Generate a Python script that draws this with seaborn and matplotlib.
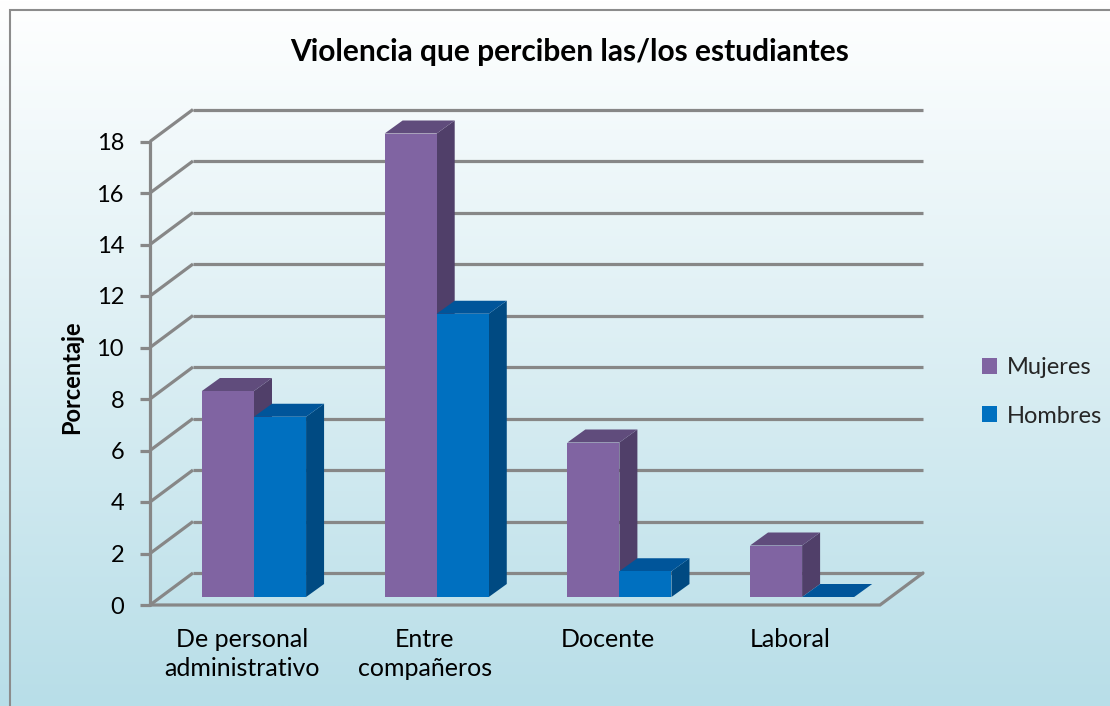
import numpy as np
import pandas as pd
import matplotlib
matplotlib.use("Agg")
import matplotlib.pyplot as plt
import seaborn as sns
from matplotlib.patches import Polygon, Rectangle, Patch

# ---------------- data ----------------
categories = ["De personal\nadministrativo", "Entre\ncompañeros", "Docente", "Laboral"]
mujeres = [8, 18, 6, 2]
hombres = [7, 11, 1, 0]
series = ["Mujeres", "Hombres"]
yticks = [0, 2, 4, 6, 8, 10, 12, 14, 16, 18]
title = "Violencia que perciben las/los estudiantes"
ylabel = "Porcentaje"

front_colors = ["#8064A2", "#0070C0"]
top_colors = ["#604C7C", "#00559A"]
side_colors = ["#503F69", "#004A82"]
grid_color = "#878787"

df = pd.DataFrame({
    "cat": categories * 2,
    "val": mujeres + hombres,
    "serie": [series[0]] * len(categories) + [series[1]] * len(categories),
})

W, H = 1110, 706
sns.set_theme(style="white")
plt.rcParams["font.family"] = ["Lato", "DejaVu Sans"]

fig = plt.figure(figsize=(W / 100, H / 100), dpi=100)

# background gradient
bg = fig.add_axes([0, 0, 1, 1], zorder=-10)
top_c = np.array([1.0, 1.0, 1.0])
bot_c = np.array([184, 222, 232]) / 255
t = np.linspace(0, 1, 256)[:, None]
grad = top_c * (1 - t) + bot_c * t
bg.imshow(np.repeat(grad[:, None, :], 2, axis=1), aspect="auto", extent=[0, 1, 0, 1])
bg.axis("off")

# main axes, linear pixel mapping
PX0, PXU = 254.0, 182.7   # pixel x of category 0, pixels per category
PY0, PYU = 597.0, 25.75   # pixel y of value 0, pixels per unit
L, R, T, B = 100, 960, 90, 625
ax = fig.add_axes([L / W, (H - B) / H, (R - L) / W, (B - T) / H])
ax.patch.set_alpha(0)

sns.barplot(data=df, x="cat", y="val", hue="serie", palette=front_colors,
            width=0.57, ax=ax, legend=False, edgecolor="none", linewidth=0,
            saturation=1)

ax.set_xlim((L - PX0) / PXU, (R - PX0) / PXU)
ax.set_ylim((PY0 - B) / PYU, (PY0 - T) / PYU)
ax.axis("off")

# depth offsets (data units)
fdx, fdy = -11 / PXU, -8 / PYU     # front plane relative to bars
bdx, bdy = 32 / PXU, 24 / PYU      # back wall relative to bars
ddx, ddy = 18 / PXU, 13 / PYU      # bar depth
x0w = (161 - PX0) / PXU
x1w = (891 - PX0) / PXU
lw = 2.3

# back wall gridlines and left wall diagonals
for v in yticks:
    ax.plot([x0w + bdx, x1w + bdx], [v + bdy, v + bdy], color=grid_color, lw=lw,
            zorder=0.5, solid_capstyle="butt")
    ax.plot([x0w + fdx, x0w + bdx], [v + fdy, v + bdy], color=grid_color, lw=lw,
            zorder=0.5, solid_capstyle="butt")
    ax.plot([x0w + fdx - 10 / PXU, x0w + fdx], [v + fdy, v + fdy], color=grid_color,
            lw=lw, zorder=0.5, solid_capstyle="butt")
    ax.text(x0w + fdx - 26 / PXU, v + fdy - 2 / PYU, str(v), ha="right", va="center",
            fontsize=17, color="black")
# front axis line
ax.plot([x0w + fdx, x0w + fdx], [fdy, yticks[-1] + fdy], color=grid_color, lw=lw,
        zorder=0.5)
# floor front and right edges
ax.plot([x0w + fdx, x1w + fdx, x1w + bdx], [fdy, fdy, bdy], color=grid_color, lw=lw,
        zorder=0.5, solid_joinstyle="miter")

# 3D faces of bars
for i, cont in enumerate(ax.containers):
    for bar in cont:
        x0 = bar.get_x()
        x1 = x0 + bar.get_width()
        h = bar.get_height()
        bar.set_facecolor(front_colors[i])
        bar.set_zorder(3 + 2 * i)
        top = Polygon([(x0, h), (x1, h), (x1 + ddx, h + ddy), (x0 + ddx, h + ddy)],
                      closed=True, facecolor=top_colors[i], edgecolor="none",
                      zorder=2 + 2 * i)
        side = Polygon([(x1, 0), (x1, h), (x1 + ddx, h + ddy), (x1 + ddx, ddy)],
                       closed=True, facecolor=side_colors[i], edgecolor="none",
                       zorder=2 + 2 * i)
        ax.add_patch(side)
        ax.add_patch(top)

# category labels
for i, c in enumerate(categories):
    ax.text(i - 12 / PXU, (PY0 - 628) / PYU, c, ha="center", va="top",
            multialignment="center", fontsize=18, linespacing=1.32, color="black")

# title / y label
fig.text(570 / W, 1 - 52 / H, title, ha="center", va="center", fontsize=21.5,
         fontweight="bold", color="black")
fig.text(72 / W, 1 - 377 / H, ylabel, ha="center", va="center", rotation=90,
         fontsize=17, fontweight="bold", color="black")

# legend
handles = [Patch(facecolor=front_colors[0], edgecolor="none"),
           Patch(facecolor=front_colors[1], edgecolor="none")]
fig.legend(handles, series, loc="center left", bbox_to_anchor=(982 / W, 1 - 392 / H),
           frameon=False, fontsize=17, handlelength=0.65, handleheight=0.65,
           handletextpad=0.4, labelspacing=1.15, borderpad=0, borderaxespad=0)

# outer border (right/bottom edges fall outside the picture)
fig.add_artist(Rectangle((10 / W, -10 / H), (1130 - 10) / W, (H) / H,
                         transform=fig.transFigure, fill=False,
                         edgecolor="#8c8c8c", lw=1.5))

fig.savefig("out.png", dpi=100)
